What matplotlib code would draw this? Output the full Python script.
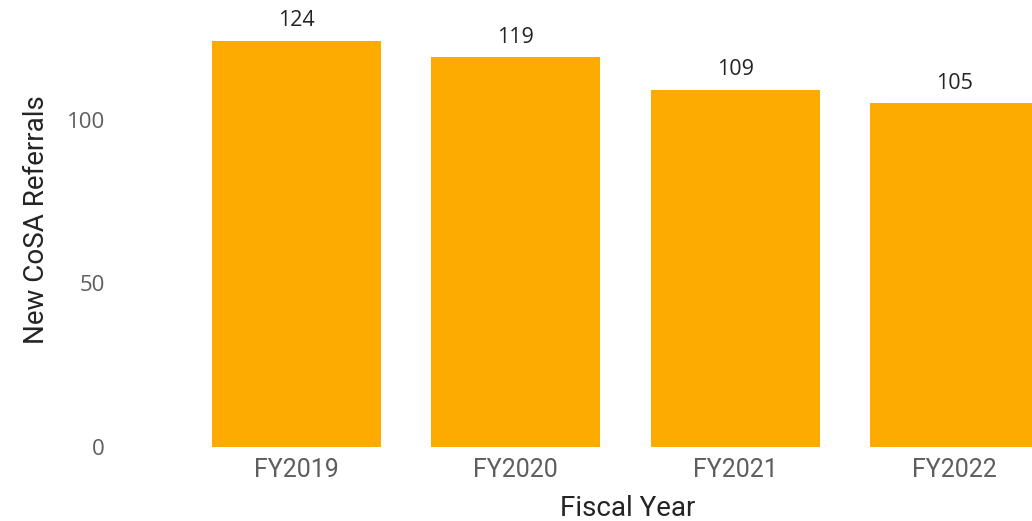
import matplotlib
matplotlib.use("Agg")
import matplotlib.pyplot as plt

categories = ["FY2019", "FY2020", "FY2021", "FY2022"]
values = [124, 119, 109, 105]
yticks = [0, 50, 100]

W, H = 1032, 521
fig = plt.figure(figsize=(W / 100, H / 100), dpi=100)
left_px, bottom_px = 130, 447
ax = fig.add_axes([left_px / W, (H - bottom_px) / H, (W - left_px) / W, bottom_px / H])

pitch = 219.3
x0 = 296.5
xs = list(range(len(categories)))
ax.bar(xs, values, width=169 / pitch, color="#FDAB00")
ax.set_xlim((left_px - x0) / pitch, (W - x0) / pitch)
ax.set_ylim(0, bottom_px / 3.274)

for x, v in zip(xs, values):
    ax.annotate(str(v), (x, v), xytext=(0, 7), textcoords="offset points",
                ha="center", va="bottom", fontsize=15.5, color="#252423",
                family="Open Sans", annotation_clip=False)

ax.set_xticks(xs)
ax.set_xticklabels(categories, fontsize=18, color="#605E5C", family="Roboto")
ax.set_yticks(yticks)
ax.set_yticklabels([str(t) for t in yticks], fontsize=16, color="#605E5C", family="Open Sans")
ax.tick_params(axis="both", length=0)
ax.tick_params(axis="x", pad=8)
ax.tick_params(axis="y", pad=18)
for s in ax.spines.values():
    s.set_visible(False)

ax.set_xlabel("Fiscal Year", fontsize=20, color="#252423", family="Roboto")
ax.set_ylabel("New CoSA Referrals", fontsize=20, color="#252423", family="Roboto")
ax.xaxis.set_label_coords((628 - left_px) / (W - left_px), (bottom_px - 495) / bottom_px)
ax.yaxis.set_label_coords((50 - left_px) / (W - left_px), (bottom_px - 220) / bottom_px)

fig.savefig("out.png", dpi=100)
